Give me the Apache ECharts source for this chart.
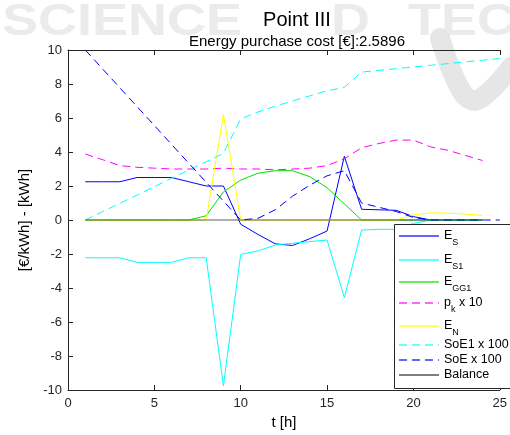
<!DOCTYPE html>
<html><head><meta charset="utf-8">
<script src="https://cdn.jsdelivr.net/npm/echarts@6/dist/echarts.min.js"></script>
<style>html,body{margin:0;padding:0;background:#fff}#c{width:510px;height:435px}</style>
</head><body><div id="c"></div>
<script>
// ---- data ----
const hours    = [1,2,3,4,5,6,7,8,9,10,11,12,13,14,15,16,17,18,19,20,21,22,23,24];
const hoursSoE = [1,2,3,4,5,6,7,8,9,10,11,12,13,14,15,16,17,18,19,20,21,22,23,24,25];
const E_S   = [2.25,2.25,2.25,2.5,2.5,2.5,2.25,2.0,2.0,-0.25,-0.85,-1.4,-1.5,-1.1,-0.65,3.75,0.63,0.6,0.57,0.2,0,0,0,0];
const E_S1  = [-2.22,-2.22,-2.22,-2.49,-2.49,-2.49,-2.22,-2.22,-9.75,-2.02,-1.82,-1.47,-1.37,-1.27,-1.18,-4.57,-0.59,-0.55,-0.55,-0.2,0,0,0,0];
const E_GG1 = [0,0,0,0,0,0,0,0.25,1.65,2.35,2.75,2.9,2.9,2.55,1.9,0.95,0,0,0,0,0,0,0,0];
const pk10  = [3.88,3.55,3.2,3.1,3.05,3.0,3.0,3.0,3.05,3.0,3.0,2.95,3.0,3.05,3.2,3.6,4.25,4.5,4.7,4.7,4.3,4.1,3.8,3.5];
const E_N   = [0,0,0,0,0,0,0,0,6.2,0,0,0,0,0,0,0,0,0,0,0.3,0.42,0.4,0.35,0.27];
const SoE1  = [0,0.49,0.98,1.47,1.96,2.45,2.94,3.43,3.92,5.95,6.35,6.7,7.0,7.3,7.6,7.8,8.7,8.8,8.9,9.0,9.1,9.2,9.3,9.4,9.5];
const SoE   = [10,8.89,7.78,6.67,5.56,4.44,3.33,2.22,1.11,0,0.1,0.6,1.4,2.05,2.6,2.9,1.0,0.75,0.5,0.15,0,0,0,0,0];
const Balance = [0,0,0,0,0,0,0,0,0,0,0,0,0,0,0,0,0,0,0,0,0,0,0,0];
const xTicks = {min:0, max:25, interval:5};
const yTicks = {min:-10, max:10, interval:2};

const pairs = (xs, ys) => xs.map((x,i)=>[x, ys[i]]);
const FONT = '"Liberation Sans", Arial, sans-serif';
const AX = '#262626';

const seriesDefs = [
  {name:'E_S',     x:hours,    y:E_S,     color:'#0000ff', dash:'solid'},
  {name:'E_S1',    x:hours,    y:E_S1,    color:'#00ffff', dash:'solid'},
  {name:'E_GG1',   x:hours,    y:E_GG1,   color:'#00e000', dash:'solid'},
  {name:'pk',      x:hours,    y:pk10,    color:'#ff00ff', dash:[8,5]},
  {name:'E_N',     x:hours,    y:E_N,     color:'#ffff00', dash:'solid'},
  {name:'SoE1',    x:hoursSoE, y:SoE1,    color:'#00ffff', dash:[8,5]},
  {name:'SoE',     x:hoursSoE, y:SoE,     color:'#0000ff', dash:[8,5]},
  {name:'Balance', x:hours,    y:Balance, color:'#2a2a2a', dash:'solid', opacity:0.75}
];
const labelMap = {
  'E_S':'{m|E}{s|S}', 'E_S1':'{m|E}{s|S1}', 'E_GG1':'{m|E}{s|GG1}',
  'pk':'{m|p}{s|k}{m| x 10}', 'E_N':'{m|E}{s|N}',
  'SoE1':'{m|SoE1 x 100}', 'SoE':'{m|SoE x 100}', 'Balance':'{m|Balance}'
};
const legendY = [235, 259, 281, 302, 325, 345, 360, 375];

const chart = echarts.init(document.getElementById('c'), null, {renderer:'canvas'});
chart.setOption({
  animation:false,
  backgroundColor:'#fff',
  textStyle:{fontFamily:FONT},
  title:[
    {text:'Point III', left:292, textAlign:'center', top:5, textStyle:{fontSize:20, fontWeight:'normal', color:'#000', fontFamily:FONT}},
    {text:'Energy purchase cost [€]:2.5896', left:292, textAlign:'center', top:29, textStyle:{fontSize:15, fontWeight:'normal', color:'#000', fontFamily:FONT}}
  ],
  graphic:[
    {type:'text', x:2, y:0, z:-10, silent:true, scaleX:1.2,
      style:{text:'SCIENCE', font:'bold 45px "Liberation Sans", Arial, sans-serif', fill:'#ebebeb'}},
    {type:'text', x:331, y:0, z:-10, silent:true, scaleX:1.2,
      style:{text:'D', font:'bold 45px "Liberation Sans", Arial, sans-serif', fill:'#ebebeb'}},
    {type:'text', x:408, y:0, z:-10, silent:true, scaleX:1.2,
      style:{text:'TECHNOLOGY', font:'bold 45px "Liberation Sans", Arial, sans-serif', fill:'#ebebeb'}},
    {type:'polyline', z:-10, silent:true,
      shape:{points:[[440,38],[462,92],[478,100],[512,66]], smooth:0.4},
      style:{stroke:'#e6e6e6', lineWidth:20, fill:null, lineCap:'round'}},
    {type:'rect', z:3, silent:true,
      shape:{x:394.5, y:224.5, width:130, height:164},
      style:{fill:'#fff', stroke:AX, lineWidth:1}}
  ],
  grid:{left:68, right:-6, top:50, bottom:45, containLabel:false},
  xAxis:[
    {type:'value', min:xTicks.min, max:xTicks.max, interval:xTicks.interval, position:'bottom',
     name:'t [h]', nameLocation:'middle', nameGap:25,
     nameTextStyle:{fontSize:15, color:'#000', fontFamily:FONT},
     axisLine:{onZero:false, lineStyle:{color:AX, width:1}},
     axisTick:{inside:true, length:5, lineStyle:{color:AX}},
     axisLabel:{fontSize:13, color:AX, margin:7, fontFamily:FONT},
     splitLine:{show:false}},
    {type:'value', min:xTicks.min, max:xTicks.max, interval:xTicks.interval, position:'top',
     axisLine:{onZero:false, lineStyle:{color:AX, width:1}},
     axisTick:{inside:true, length:5, lineStyle:{color:AX}},
     axisLabel:{show:false}, splitLine:{show:false}}
  ],
  yAxis:[
    {type:'value', min:yTicks.min, max:yTicks.max, interval:yTicks.interval,
     name:'[€/kWh] - [kWh]', nameLocation:'middle', nameGap:36,
     nameTextStyle:{fontSize:15, color:'#000', fontFamily:FONT},
     axisLine:{show:true, onZero:false, lineStyle:{color:AX, width:1}},
     axisTick:{show:true, inside:true, length:5, lineStyle:{color:AX}},
     axisLabel:{fontSize:13, color:AX, margin:6, fontFamily:FONT},
     splitLine:{show:false}}
  ],
  legend: seriesDefs.map((s,i)=>({
    data:[s.name], left:398, top:legendY[i]-10, orient:'vertical',
    itemWidth:40, itemHeight:10, padding:0, z:4,
    lineStyle:{width:2, opacity:0.6},
    itemStyle:{opacity:0},
    selectedMode:false,
    formatter:(n)=>labelMap[n],
    textStyle:{fontSize:12, color:'#000', fontFamily:FONT, lineHeight:20,
      rich:{
        m:{fontSize:12.5, lineHeight:20, verticalAlign:'middle', color:'#000', fontFamily:FONT},
        s:{fontSize:9, lineHeight:22, verticalAlign:'bottom', color:'#000', fontFamily:FONT}
      }}
  })),
  series: seriesDefs.map(s=>({
    name:s.name, type:'line', xAxisIndex:0, yAxisIndex:0,
    data:pairs(s.x, s.y), symbol:'none', showSymbol:false, z:2,
    lineStyle:{color:s.color, width:1, type:s.dash, opacity:s.opacity||1},
    itemStyle:{color:s.color},
    clip:true
  }))
});
</script></body></html>
